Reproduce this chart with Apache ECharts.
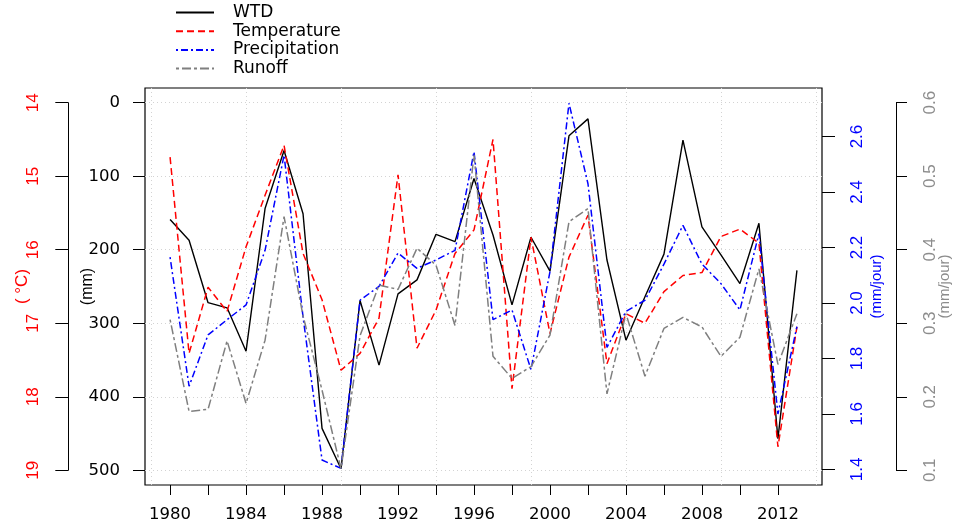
<!DOCTYPE html>
<html><head><meta charset="utf-8">
<script src="https://cdn.jsdelivr.net/npm/echarts@6/dist/echarts.min.js"></script>
<style>html,body{margin:0;padding:0;background:#fff}#c{width:955px;height:524px}</style>
</head><body><div id="c"></div>
<script>
const years = [1980,1981,1982,1983,1984,1985,1986,1987,1988,1989,1990,1991,1992,1993,1994,1995,1996,1997,1998,1999,2000,2001,2002,2003,2004,2005,2006,2007,2008,2009,2010,2011,2012,2013];
const wtd = [159,187,272,279,338,144,65,151,443,498,269,357,260,241,179,189,103,180,275,183,229,45,22,214,323,264,206,51,169,207,246,164,457,228];
const temperature = [14.74,17.41,16.51,16.84,15.96,15.26,14.58,16.05,16.68,17.64,17.41,16.93,14.98,17.34,16.82,16.05,15.73,14.50,17.89,15.83,17.14,16.10,15.53,17.55,16.87,17.00,16.57,16.35,16.31,15.82,15.72,15.91,18.68,17.05];
const precipitation = [2.165,1.70,1.885,1.94,1.993,2.19,2.533,1.95,1.434,1.404,2.01,2.06,2.18,2.125,2.155,2.19,2.545,1.94,1.975,1.76,2.113,2.72,2.43,1.84,1.97,2.01,2.14,2.28,2.14,2.07,1.975,2.25,1.60,1.915];
const runoff = [0.305,0.180,0.183,0.276,0.191,0.277,0.445,0.31,0.209,0.102,0.283,0.352,0.346,0.402,0.379,0.297,0.529,0.255,0.225,0.241,0.284,0.438,0.456,0.204,0.313,0.228,0.293,0.308,0.295,0.255,0.281,0.374,0.244,0.313];

const yearTicks = [1980,1982,1984,1986,1988,1990,1992,1994,1996,1998,2000,2002,2004,2006,2008,2010,2012];
const yearLabels = [1980,1984,1988,1992,1996,2000,2004,2008,2012];
const gridYears = [1979,1984,1989,1994,1999,2004,2009,2014];
const wtdTicks = [0,100,200,300,400,500];
const tempTicks = [14,15,16,17,18,19];
const precipTicks = [1.4,1.6,1.8,2.0,2.2,2.4,2.6];
const runoffTicks = [0.1,0.2,0.3,0.4,0.5,0.6];

const pair = arr => years.map((y, i) => [y, arr[i]]);
const H = 'DejaVu Sans', R = 'Liberation Sans';
const dotted = {show: true, lineStyle: {color: '#d3d3d3', type: [1, 3], width: 1}};
const tick = (len, vals) => ({show: true, length: len, lineStyle: {color: '#000', width: 1}, customValues: vals});

const chart = echarts.init(document.getElementById('c'), null, {renderer: 'canvas'});
chart.setOption({
  animation: false,
  backgroundColor: '#fff',
  legend: {
    orient: 'vertical', left: 175, top: 4, padding: 0,
    itemWidth: 38, itemHeight: 12, itemGap: 1.7,
    data: ['WTD', 'Temperature', 'Precipitation', 'Runoff'],
    itemStyle: {opacity: 0},
    textStyle: {fontFamily: H, fontSize: 17, lineHeight: 17, color: '#000', padding: [0, 0, 0, 14]}
  },
  grid: [
    {left: 145, top: 88, width: 677, height: 397, show: true, borderColor: '#000', borderWidth: 1.2, containLabel: false},
    {left: 68, top: 102.7, width: 10, height: 367.6, containLabel: false},
    {left: 886, top: 102.7, width: 10, height: 367.6, containLabel: false}
  ],
  xAxis: [
    {gridIndex: 0, type: 'value', min: 1978.68, max: 2014.32, position: 'bottom',
     axisLine: {show: false, onZero: false}, axisTick: tick(10, yearTicks),
     axisLabel: {customValues: yearLabels, margin: 21, fontFamily: H, fontSize: 16.5, color: '#000',
                 formatter: v => String(v)},
     splitLine: {show: false}},
    {gridIndex: 0, type: 'value', min: 1978.68, max: 2014.32, position: 'top',
     axisLine: {show: false, onZero: false}, axisTick: {show: false, customValues: gridYears},
     axisLabel: {show: false}, splitLine: dotted},
    {gridIndex: 1, type: 'value', show: false},
    {gridIndex: 2, type: 'value', show: false}
  ],
  yAxis: [
    {gridIndex: 0, type: 'value', position: 'left', min: -20, max: 520, inverse: true,
     axisLine: {show: false, onZero: false}, axisTick: tick(12, wtdTicks),
     axisLabel: {customValues: wtdTicks, margin: 25, fontFamily: H, fontSize: 16.5, color: '#000'},
     splitLine: dotted,
     name: '(mm)', nameLocation: 'middle', nameRotate: 90, nameGap: 49, nameMoveOverlap: false,
     nameTextStyle: {fontFamily: R, fontSize: 16, color: '#000'}},
    {gridIndex: 0, type: 'value', min: 13.8, max: 19.2, inverse: true, show: false},
    {gridIndex: 0, type: 'value', position: 'right', min: 1.344, max: 2.775,
     axisLine: {show: false, onZero: false}, axisTick: tick(13, precipTicks),
     axisLabel: {customValues: precipTicks, margin: 27, rotate: 90, fontFamily: R, fontSize: 17, color: '#0000ff',
                 formatter: v => v.toFixed(1)},
     splitLine: {show: false},
     name: '(mm/jour)', nameLocation: 'middle', nameRotate: 90, nameGap: 47, nameMoveOverlap: false,
     nameTextStyle: {fontFamily: R, fontSize: 15, color: '#0000ff'}},
    {gridIndex: 0, type: 'value', min: 0.08, max: 0.62, show: false},
    {gridIndex: 1, type: 'value', position: 'left', min: 14, max: 19, inverse: true,
     axisLine: {show: true, onZero: false, lineStyle: {color: '#000', width: 1}}, axisTick: tick(12.7, tempTicks),
     axisLabel: {customValues: tempTicks, margin: 26, rotate: 90, fontFamily: R, fontSize: 17, color: '#ff0000'},
     splitLine: {show: false},
     name: '( °C)', nameLocation: 'middle', nameRotate: 90, nameGap: 37, nameMoveOverlap: false,
     nameTextStyle: {fontFamily: R, fontSize: 17, color: '#ff0000'}},
    {gridIndex: 2, type: 'value', position: 'right', min: 0.1, max: 0.6,
     axisLine: {show: true, onZero: false, lineStyle: {color: '#000', width: 1}}, axisTick: tick(11, runoffTicks),
     axisLabel: {customValues: runoffTicks, margin: 26, rotate: 90, fontFamily: R, fontSize: 17, color: '#8c8c8c',
                 formatter: v => v.toFixed(1)},
     splitLine: {show: false},
     name: '(mm/jour)', nameLocation: 'middle', nameRotate: 90, nameGap: 41, nameMoveOverlap: false,
     nameTextStyle: {fontFamily: R, fontSize: 15, color: '#8c8c8c'}}
  ],
  series: [
    {name: 'WTD', type: 'line', xAxisIndex: 0, yAxisIndex: 0, data: pair(wtd), symbol: 'none',
     lineStyle: {color: '#000', width: 1.4, type: 'solid'}, itemStyle: {color: '#000'}},
    {name: 'Temperature', type: 'line', xAxisIndex: 0, yAxisIndex: 1, data: pair(temperature), symbol: 'none',
     lineStyle: {color: '#ff0000', width: 1.5, type: [7, 4]}, itemStyle: {color: '#ff0000'}},
    {name: 'Precipitation', type: 'line', xAxisIndex: 0, yAxisIndex: 2, data: pair(precipitation), symbol: 'none',
     lineStyle: {color: '#0000ff', width: 1.5, type: [2, 3, 7, 3]}, itemStyle: {color: '#0000ff'}},
    {name: 'Runoff', type: 'line', xAxisIndex: 0, yAxisIndex: 3, data: pair(runoff), symbol: 'none',
     lineStyle: {color: '#7f7f7f', width: 1.5, type: [3, 3, 9, 3]}, itemStyle: {color: '#7f7f7f'}}
  ]
});
</script>
</body></html>
